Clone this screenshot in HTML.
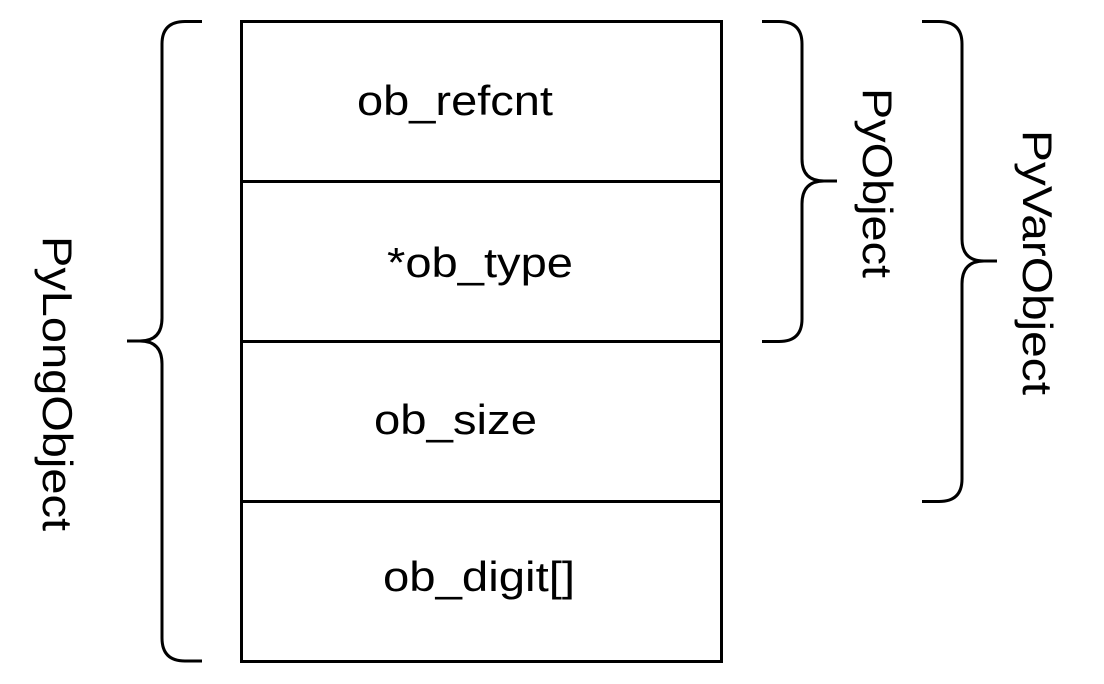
<!DOCTYPE html>
<html><head><meta charset="utf-8"><style>
html,body{margin:0;padding:0;background:#fff;}
svg{display:block;}
text{font-family:"Liberation Sans",Arial,sans-serif;font-size:42px;fill:#000;}
</style></head><body>
<svg width="1104" height="684" viewBox="0 0 1104 684" xmlns="http://www.w3.org/2000/svg">
<g fill="none" stroke="#000" stroke-width="3">
<rect x="241.5" y="21.5" width="480" height="640"/>
<line x1="241" y1="181.5" x2="721" y2="181.5"/>
<line x1="241" y1="341.5" x2="721" y2="341.5"/>
<line x1="241" y1="501.5" x2="721" y2="501.5"/>
<path d="M202 21.5 H185 Q162 21.5 162 44 V318 Q162 341 140 341 H127 M140 341 Q162 341 162 364 V638 Q162 661 185 661 H202"/>
<path d="M762 21.5 H779 Q802 21.5 802 44 V159 Q802 181 824 181 H837 M824 181 Q802 181 802 204 V319 Q802 341.5 779 341.5 H762"/>
<path d="M922 21.5 H939 Q962 21.5 962 44 V239 Q962 261 984 261 H997 M984 261 Q962 261 962 284 V479 Q962 501.5 939 501.5 H922"/>
</g>
<text x="357" y="115" textLength="196" lengthAdjust="spacingAndGlyphs">ob_refcnt</text>
<text x="387" y="277" textLength="186" lengthAdjust="spacingAndGlyphs">*ob_type</text>
<text x="374" y="434" textLength="163" lengthAdjust="spacingAndGlyphs">ob_size</text>
<text x="383" y="591" textLength="192" lengthAdjust="spacingAndGlyphs">ob_digit[]</text>
<text transform="translate(863,88) rotate(90)" textLength="190" lengthAdjust="spacingAndGlyphs">PyObject</text>
<text transform="translate(1023,130) rotate(90)" textLength="265" lengthAdjust="spacingAndGlyphs">PyVarObject</text>
<text transform="translate(43,236) rotate(90)" textLength="295" lengthAdjust="spacingAndGlyphs">PyLongObject</text>
</svg>
</body></html>
